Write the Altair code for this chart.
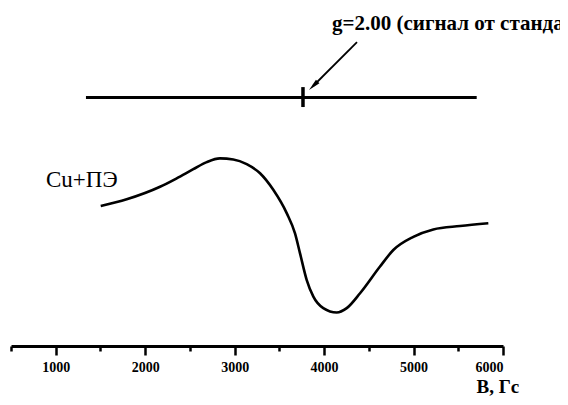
import altair as alt
import pandas as pd

# EPR spectrum (Cu + ПЭ); amplitude in arbitrary units
field_G = [1503, 1793, 2166, 2352, 2538, 2688, 2836, 2985, 3135, 3284, 3432, 3582,
           3675, 3731, 3806, 3880, 3991, 4141, 4253, 4402, 4625, 4774, 4998, 5221,
           5520, 5836]
signal = [41.4, 43.4, 47.1, 49.6, 52.3, 54.4, 55.5, 55.2, 53.8, 51.1, 46.2, 39.3,
          33.3, 27.4, 19.5, 14.6, 11.2, 9.9, 11.2, 15.6, 23.5, 28.4, 32.3, 34.5,
          35.5, 36.3]

# reference (standard) trace
std_field = [1338, 5706]
std_level = [73.5, 73.5]
std_mark_field = [3764]
std_mark_low = [70.7]
std_mark_high = [76.6]

# arrow from annotation to standard signal
arrow_field = [4368, 3880]
arrow_level = [89.9, 77.0]
head_field = [3880]
head_level = [77.0]

tick_values = [500, 1000, 1500, 2000, 2500, 3000, 3500, 4000, 4500, 5000, 5500, 6000]

SERIF = "Liberation Serif"

xs = alt.Scale(domain=[500, 6000], nice=False, zero=False)
ys = alt.Scale(domain=[0, 100], nice=False, zero=False)

curve_df = pd.DataFrame({"B": field_G, "A": signal})
std_df = pd.DataFrame({"B": [std_field[0]], "B2": [std_field[1]], "A": [std_level[0]]})
mark_df = pd.DataFrame({"B": std_mark_field, "A": std_mark_low, "A2": std_mark_high})
arrow_df = pd.DataFrame({"B": arrow_field, "A": arrow_level, "o": [0, 1]})
head_df = pd.DataFrame({"B": head_field, "A": head_level})
lab_df = pd.DataFrame({"B": [891], "A": [47.0], "t": ["Cu+ПЭ"]})
ann_df = pd.DataFrame({"B": [4089], "A": [93.5], "t": ["g=2.00 (сигнал от стандарта)"]})

x_axis = alt.Axis(
    values=tick_values,
    labelExpr="datum.value % 1000 === 0 ? datum.value : ''",
    tickSize={"condition": {"test": "datum.value % 1000 === 0", "value": 9}, "value": 5},
    tickWidth=2.5,
    tickColor="black",
    domainColor="black",
    domainWidth=3,
    grid=False,
    labelFont=SERIF,
    labelFontWeight="bold",
    labelFontSize=14,
    labelColor="black",
    labelPadding=5,
    title="B, Гс",
    titleFont=SERIF,
    titleFontWeight="bold",
    titleFontSize=19,
    titleColor="black",
    titleAlign="left",
    titleAnchor="start",
    titleBaseline="alphabetic",
    titleX=465,
    titleY=46,
)

curve = alt.Chart(curve_df).mark_line(color="black", strokeWidth=2.6, interpolate="monotone").encode(
    x=alt.X("B:Q", scale=xs, axis=x_axis),
    y=alt.Y("A:Q", scale=ys, axis=None),
)

std = alt.Chart(std_df).mark_rule(color="black", strokeWidth=3).encode(
    x=alt.X("B:Q", scale=xs), x2="B2:Q", y=alt.Y("A:Q", scale=ys)
)

std_mark = alt.Chart(mark_df).mark_rule(color="black", strokeWidth=3.5).encode(
    x=alt.X("B:Q", scale=xs), y=alt.Y("A:Q", scale=ys), y2="A2:Q"
)

arrow = alt.Chart(arrow_df).mark_line(color="black", strokeWidth=1.8).encode(
    x=alt.X("B:Q", scale=xs), y=alt.Y("A:Q", scale=ys), order="o:Q"
)

head = alt.Chart(head_df).mark_point(
    shape="M0,-1L0.4,1L-0.4,1Z", filled=True, color="black", size=150, angle=225, opacity=1
).encode(
    x=alt.X("B:Q", scale=xs), y=alt.Y("A:Q", scale=ys)
)

lab = alt.Chart(lab_df).mark_text(font=SERIF, fontSize=23, align="left", baseline="alphabetic", color="black").encode(
    x=alt.X("B:Q", scale=xs), y=alt.Y("A:Q", scale=ys), text="t:N"
)

ann = alt.Chart(ann_df).mark_text(font=SERIF, fontSize=21, fontWeight="bold", align="left", baseline="alphabetic", color="black").encode(
    x=alt.X("B:Q", scale=xs), y=alt.Y("A:Q", scale=ys), text="t:N"
)

chart = alt.layer(curve, std, std_mark, arrow, head, lab, ann).properties(
    width=492,
    height=338,
    autosize=alt.AutoSizeParams(type="none"),
    padding={"left": 3, "top": 0, "right": 57, "bottom": 51},
    background="white",
).configure_view(strokeWidth=0)

chart.save("out.html", embed_options={"renderer": "svg", "actions": False})
